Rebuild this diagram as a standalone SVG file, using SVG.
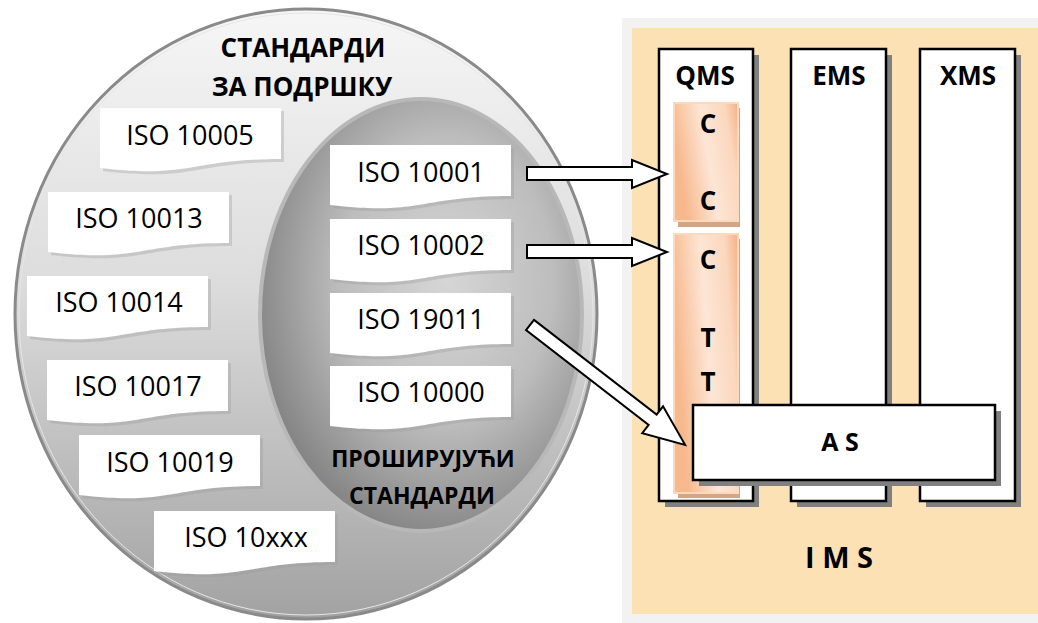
<svg xmlns="http://www.w3.org/2000/svg" width="1038" height="623" viewBox="0 0 1038 623">
<style>
.iso{font-family:"Open Sans","Noto Sans",sans-serif;font-size:27px;fill:#000;text-anchor:middle}
.hd{font-family:"Open Sans","Noto Sans",sans-serif;font-weight:bold;fill:#000;text-anchor:middle}
.doc{fill:#fff}
.docsh{fill:#9a9a9a;opacity:0.35}
.col{fill:#fff;stroke:#000;stroke-width:2.5}
.colsh{fill:#808080}
.arr{fill:#fff;stroke:#000;stroke-width:2;stroke-linejoin:miter}
.or{fill:url(#orG);stroke:#fcd8bd;stroke-width:2}
.orsh{fill:#d4a584}
</style>
<defs>
<linearGradient id="outerG" x1="0" y1="0" x2="0" y2="1">
<stop offset="0" stop-color="#f6f6f6"/>
<stop offset="0.45" stop-color="#dcdcdc"/>
<stop offset="1" stop-color="#a2a2a2"/>
</linearGradient>
<radialGradient id="innerG" cx="0.58" cy="0.42" r="0.6">
<stop offset="0" stop-color="#d6d6d6"/>
<stop offset="0.55" stop-color="#bdbdbd"/>
<stop offset="1" stop-color="#868686"/>
</radialGradient>
<linearGradient id="orG" x1="0" y1="0.3" x2="1" y2="0">
<stop offset="0" stop-color="#f7b88c"/>
<stop offset="0.45" stop-color="#fde6d6"/>
<stop offset="0.8" stop-color="#fbd7bd"/>
<stop offset="1" stop-color="#f5b185"/>
</linearGradient>
<path id="docShape" d="M0,0 H181 V51 C90.5,51 90.5,71 0,60 Z"/>
</defs>

<!-- right panel -->
<g id="ims-panel">
<rect x="622" y="18" width="416" height="605" fill="#f2f2f2"/>
<rect x="632" y="28" width="406" height="586" fill="#fbe1b4"/>
<text class="hd" x="839" y="568" font-size="29">I M S</text>
</g>

<g id="qms">
<rect class="colsh" x="665" y="55" width="94" height="452"/>
<rect class="col" x="659" y="49" width="94" height="452"/>
<text class="hd" x="705" y="85" font-size="26">QMS</text>
</g>
<g id="ems">
<rect class="colsh" x="797" y="55" width="95" height="452"/>
<rect class="col" x="791" y="49" width="95" height="452"/>
<text class="hd" x="839" y="85" font-size="26">EMS</text>
</g>
<g id="xms">
<rect class="colsh" x="926" y="55" width="95" height="452"/>
<rect class="col" x="920" y="49" width="95" height="452"/>
<text class="hd" x="968" y="85" font-size="26">XMS</text>
</g>

<g id="cc-box">
<rect class="orsh" x="678" y="108" width="62" height="119"/>
<rect class="or" x="674" y="103" width="64" height="118"/>
<text class="hd" x="708" y="133" font-size="26">C</text>
<text class="hd" x="708" y="210" font-size="26">C</text>
</g>
<g id="ctt-box">
<rect class="orsh" x="678" y="239" width="62" height="259"/>
<rect class="or" x="674" y="234" width="64" height="259"/>
<text class="hd" x="708" y="269" font-size="26">C</text>
<text class="hd" x="708" y="347" font-size="26">T</text>
<text class="hd" x="708" y="391" font-size="26">T</text>
</g>

<g id="as">
<rect class="colsh" x="699" y="411" width="302" height="75"/>
<rect class="col" x="693" y="405" width="302" height="75"/>
<text class="hd" x="840" y="451" font-size="25">A S</text>
</g>

<!-- left ellipses -->
<g id="support-standards">
<ellipse cx="306" cy="314" rx="291" ry="305" fill="url(#outerG)" stroke="#8a8a8a" stroke-width="3"/>
<ellipse cx="306" cy="314" rx="287" ry="301" fill="none" stroke="#e6e6e6" stroke-width="1"/>
<text class="hd" x="303" y="57" font-size="26">СТАНДАРДИ</text>
<text class="hd" x="302" y="96" font-size="26">ЗА ПОДРШКУ</text>
</g>
<g id="extending-standards">
<ellipse cx="421" cy="315" rx="161" ry="216" fill="url(#innerG)" stroke="#b8b8b8" stroke-width="4"/>
<text class="hd" x="423" y="467" font-size="23">ПРОШИРУЈУЋИ</text>
<text class="hd" x="422" y="504" font-size="23">СТАНДАРДИ</text>
</g>

<g id="iso10005"><use href="#docShape" class="docsh" x="103" y="111"/><use href="#docShape" class="doc" x="100" y="108"/><text class="iso" x="190" y="145">ISO 10005</text></g>
<g id="iso10013"><use href="#docShape" class="docsh" x="51" y="195"/><use href="#docShape" class="doc" x="48" y="192"/><text class="iso" x="139" y="228">ISO 10013</text></g>
<g id="iso10014"><use href="#docShape" class="docsh" x="30" y="279"/><use href="#docShape" class="doc" x="27" y="276"/><text class="iso" x="119" y="312">ISO 10014</text></g>
<g id="iso10017"><use href="#docShape" class="docsh" x="50" y="363"/><use href="#docShape" class="doc" x="47" y="360"/><text class="iso" x="138" y="396">ISO 10017</text></g>
<g id="iso10019"><use href="#docShape" class="docsh" x="82" y="438"/><use href="#docShape" class="doc" x="79" y="435"/><text class="iso" x="170" y="472">ISO 10019</text></g>
<g id="iso10xxx"><use href="#docShape" class="docsh" x="157" y="514"/><use href="#docShape" class="doc" x="154" y="511"/><text class="iso" x="246" y="547">ISO 10xxx</text></g>
<g id="iso10001"><use href="#docShape" class="docsh" x="333" y="148"/><use href="#docShape" class="doc" x="330" y="145"/><text class="iso" x="421" y="182">ISO 10001</text></g>
<g id="iso10002"><use href="#docShape" class="docsh" x="333" y="222"/><use href="#docShape" class="doc" x="330" y="219"/><text class="iso" x="421" y="255">ISO 10002</text></g>
<g id="iso19011"><use href="#docShape" class="docsh" x="333" y="296"/><use href="#docShape" class="doc" x="330" y="293"/><text class="iso" x="421" y="329">ISO 19011</text></g>
<g id="iso10000"><use href="#docShape" class="docsh" x="333" y="369"/><use href="#docShape" class="doc" x="330" y="366"/><text class="iso" x="421" y="402">ISO 10000</text></g>

<g id="connectors">
<polygon class="arr" points="527,167 632,167 632,160 667,174 632,188 632,180 527,180"/>
<polygon class="arr" points="527,245 632,245 632,238 667,252 632,266 632,258 527,258"/>
<polygon class="arr" transform="translate(530,325) rotate(37.7)" points="0,-6.5 155,-6.5 155,-17 196,0 155,17 155,6.5 0,6.5"/>
</g>
</svg>
